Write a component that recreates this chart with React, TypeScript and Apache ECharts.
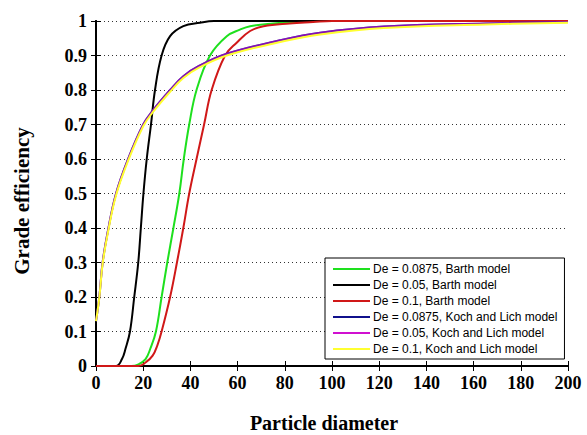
import React, { useEffect, useRef } from "react";
import * as echarts from "echarts";

const xTicks = [0, 20, 40, 60, 80, 100, 120, 140, 160, 180, 200];
const yTicks = [0, 0.1, 0.2, 0.3, 0.4, 0.5, 0.6, 0.7, 0.8, 0.9, 1];

// Barth model, De = 0.0875 (green)
const greenX = [0, 15, 18, 21, 23, 25.4, 27.8, 30.2, 32.8, 35.3, 37.2, 39.5, 42.6, 48.3, 55.4, 61, 65.3, 75, 85, 95, 200];
const greenY = [0, 0, 0.005, 0.02, 0.05, 0.1, 0.2, 0.3, 0.4, 0.5, 0.6, 0.7, 0.8, 0.9, 0.956, 0.975, 0.985, 0.993, 0.998, 1, 1];

// Barth model, De = 0.05 (black)
const blackX = [0, 8.5, 11, 12.5, 14.4, 16.2, 17.9, 19, 20.1, 21.5, 23.3, 25, 27.8, 31.4, 37, 44, 50, 200];
const blackY = [0, 0, 0.02, 0.05, 0.1, 0.2, 0.3, 0.4, 0.5, 0.6, 0.7, 0.8, 0.9, 0.956, 0.985, 0.995, 1, 1];

// Barth model, De = 0.1 (red)
const redX = [0, 18, 21, 24, 26, 27.8, 31.4, 34.3, 37, 39.5, 42.6, 45.8, 49, 54.7, 59.6, 65.3, 71, 82, 92, 100, 200];
const redY = [0, 0, 0.01, 0.03, 0.06, 0.1, 0.2, 0.3, 0.4, 0.5, 0.6, 0.7, 0.8, 0.9, 0.937, 0.971, 0.985, 0.993, 0.997, 1, 1];

// Koch and Lich model
const kochX = [0, 1.4, 2.8, 5, 8.5, 13.6, 20, 24, 31.4, 37, 44, 55.4, 78, 95, 122, 165, 200];
const blueY = [0.13, 0.2, 0.3, 0.39, 0.5, 0.6, 0.7, 0.74, 0.8, 0.84, 0.871, 0.905, 0.944, 0.966, 0.984, 0.993, 0.997];
const magentaY = [0.13, 0.2, 0.3, 0.39, 0.5, 0.6, 0.7, 0.74, 0.8, 0.84, 0.871, 0.905, 0.944, 0.966, 0.984, 0.993, 0.997];
const yellowY = [0.13, 0.198, 0.296, 0.385, 0.495, 0.595, 0.695, 0.735, 0.795, 0.835, 0.866, 0.9, 0.939, 0.961, 0.98, 0.99, 0.995];

const legendNames = [
  "De = 0.0875, Barth model",
  "De = 0.05, Barth model",
  "De = 0.1, Barth model",
  "De = 0.0875, Koch and Lich model",
  "De = 0.05, Koch and Lich model",
  "De = 0.1, Koch and Lich model",
];
const colors = ["#1ee01e", "#000000", "#d01818", "#10108c", "#d010d0", "#ffff30"];

const xTitle = "Particle diameter";
const yTitle = "Grade efficiency";

const zip = (xs: number[], ys: number[]) => xs.map((x, i) => [x, ys[i]]);

export default function App() {
  const ref = useRef<HTMLDivElement>(null);
  useEffect(() => {
    if (!ref.current) return;
    const chart = echarts.init(ref.current, undefined, { renderer: "svg" });
    const seriesData = [
      zip(greenX, greenY),
      zip(blackX, blackY),
      zip(redX, redY),
      zip(kochX, blueY),
      zip(kochX, magentaY),
      zip(kochX, yellowY),
    ];
    const font = "'Liberation Serif', 'Times New Roman', serif";
    const tickLabel = { fontFamily: font, fontWeight: "bold" as const, fontSize: 18, color: "#000" };
    const axisLine = { show: true, lineStyle: { color: "#000", width: 2 } };
    const axisTick = { show: true, inside: true, length: 5, lineStyle: { color: "#000", width: 1 } };
    chart.setOption({
      animation: false,
      backgroundColor: "#fff",
      grid: { left: 96, right: 19, top: 21, bottom: 69, containLabel: false },
      xAxis: [
        {
          type: "value",
          min: xTicks[0],
          max: xTicks[xTicks.length - 1],
          interval: 20,
          position: "bottom",
          axisLine,
          axisTick,
          splitLine: { show: false },
          axisLabel: { ...tickLabel, margin: 8 },
        },
        {
          type: "value",
          min: xTicks[0],
          max: xTicks[xTicks.length - 1],
          interval: 20,
          position: "top",
          axisLine,
          axisTick,
          splitLine: { show: false },
          axisLabel: { show: false },
        },
      ],
      yAxis: [
        {
          type: "value",
          min: yTicks[0],
          max: yTicks[yTicks.length - 1],
          interval: 0.1,
          position: "left",
          axisLine,
          axisTick,
          splitLine: { show: true, lineStyle: { color: "#333", type: [1, 3], width: 1 } },
          axisLabel: { ...tickLabel, margin: 9 },
        },
        {
          type: "value",
          min: yTicks[0],
          max: yTicks[yTicks.length - 1],
          interval: 0.1,
          position: "right",
          axisLine,
          axisTick,
          splitLine: { show: false },
          axisLabel: { show: false },
        },
      ],
      graphic: [
        {
          type: "text",
          x: 324,
          y: 423,
          style: {
            text: xTitle,
            fontFamily: font,
            fontWeight: "bold",
            fontSize: 20,
            fill: "#000",
            align: "center",
            verticalAlign: "middle",
          },
        },
        {
          type: "text",
          x: 22,
          y: 201,
          rotation: Math.PI / 2,
          style: {
            text: yTitle,
            fontFamily: font,
            fontWeight: "bold",
            fontSize: 21,
            fill: "#000",
            align: "center",
            verticalAlign: "middle",
          },
        },
      ],
      legend: {
        left: 325,
        top: 258,
        orient: "vertical",
        backgroundColor: "#fff",
        borderColor: "#000",
        borderWidth: 1,
        padding: [3, 7, 2, 8],
        itemGap: 0,
        itemWidth: 37,
        itemHeight: 2,
        icon: "rect",
        textStyle: {
          fontFamily: "'Liberation Sans', Arial, sans-serif",
          fontSize: 12,
          lineHeight: 16,
          color: "#000",
          padding: [0, 0, 0, -2],
        },
        data: legendNames.map((n, i) => ({ name: n, icon: "rect", itemStyle: { color: colors[i], opacity: 1 } })),
      },
      series: seriesData.map((d, i) => ({
        name: legendNames[i],
        type: "line",
        data: d,
        xAxisIndex: 0,
        yAxisIndex: 0,
        symbol: "none",
        showSymbol: false,
        smooth: 0.4,
        lineStyle: { color: colors[i], width: 2, opacity: i === 4 ? 0.6 : 1 },
        itemStyle: { color: colors[i] },
        z: 2 + i,
      })),
    });
    return () => chart.dispose();
  }, []);
  return <div ref={ref} style={{ position: "absolute", left: 0, top: 0, width: 587, height: 435 }} />;
}
